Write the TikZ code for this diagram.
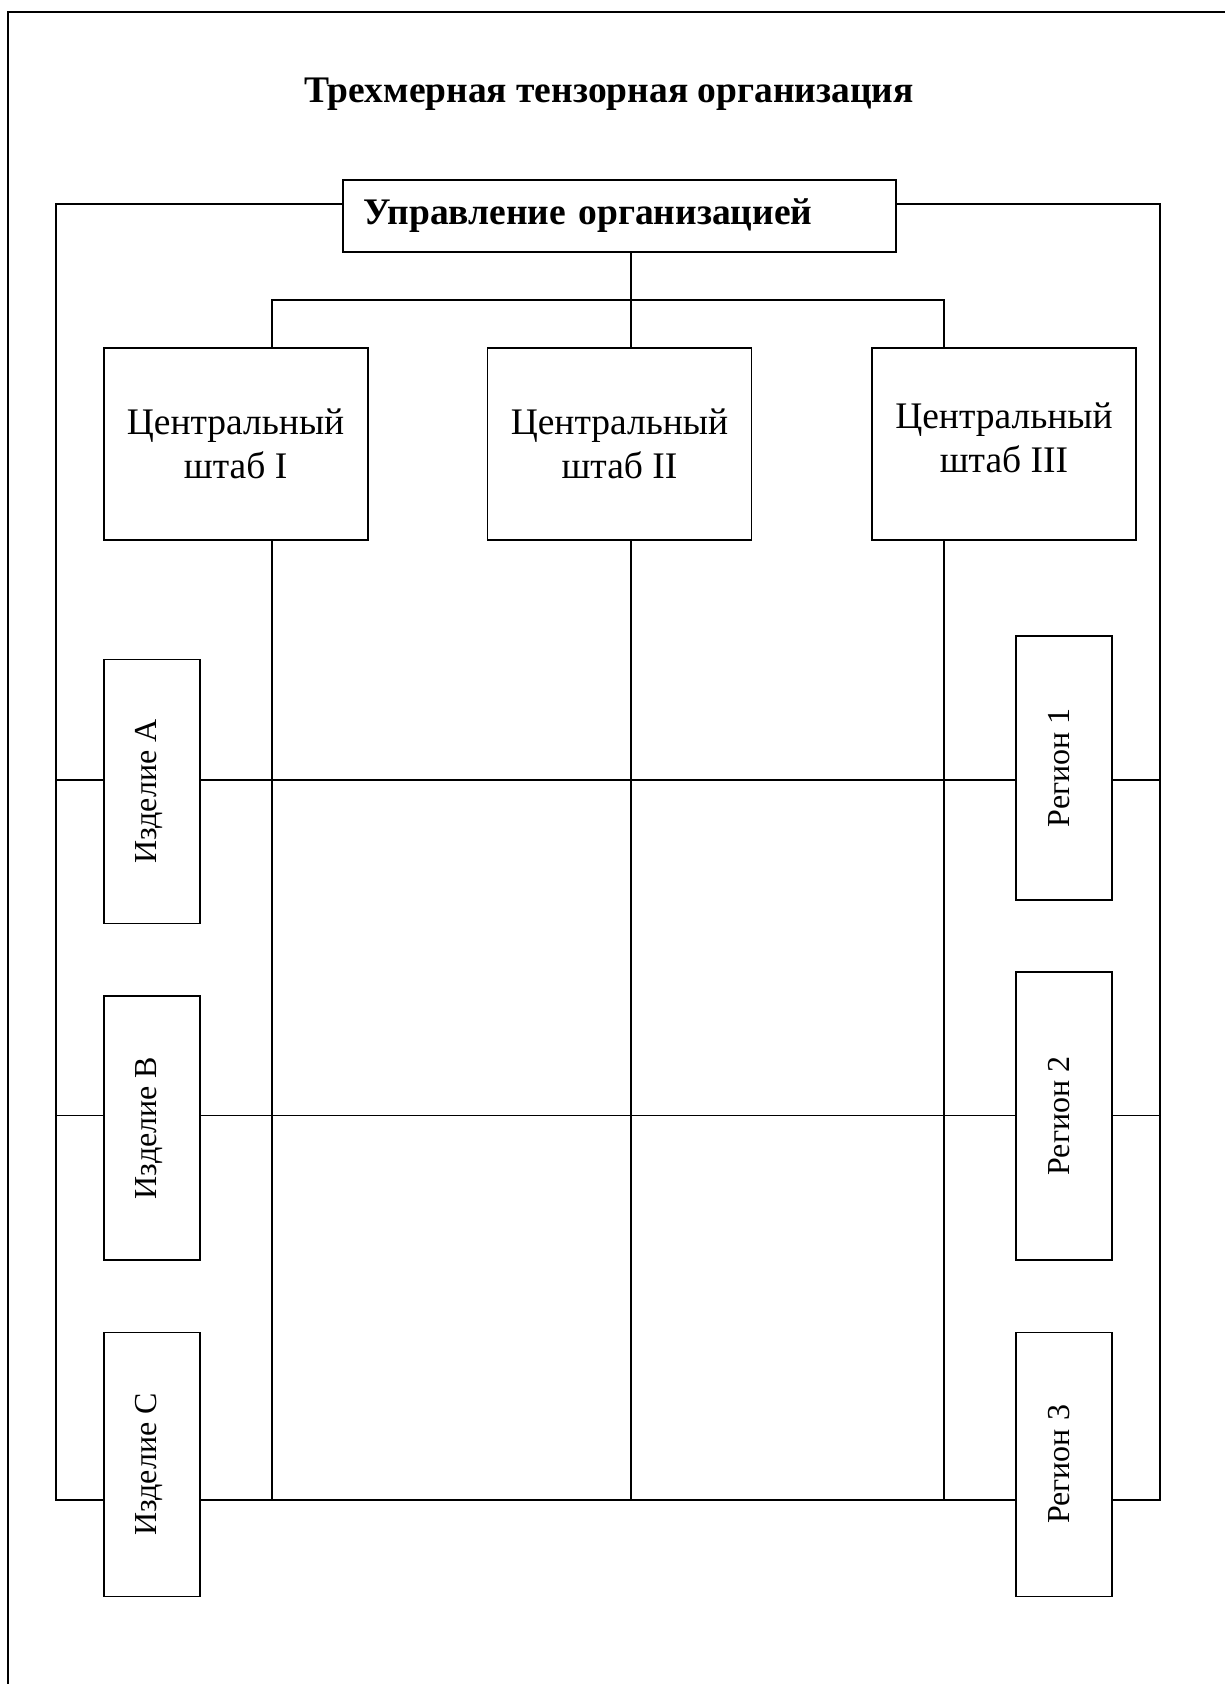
\documentclass[tikz,border=0pt]{standalone}
\usepackage{fontspec}
\setmainfont{Liberation Serif}
\begin{document}
\begin{tikzpicture}[x=1pt,y=-1pt,
  box/.style={draw, line width=1.8pt, fill=white, inner sep=0pt},
  link/.style={line width=1.6pt},
  bigfont/.style={font=\fontsize{37.5}{44}\selectfont},
  smallfont/.style={font=\fontsize{32}{38}\selectfont}]
\useasboundingbox (0,0) rectangle (1225,1684);

% page frame (left and top edges)
\draw[line width=2pt] (7.5,1684) -- (7.5,12) -- (1225,12);

% title
\node (title) [font=\fontsize{37.5}{44}\selectfont\bfseries, anchor=base] at (609,102)
  {Трехмерная тензорная организация};

% top management
\node (mgmt) [box, minimum height=72pt, text width=513pt, inner xsep=20pt, align=left,
  font=\fontsize{37.5}{44}\selectfont\bfseries] at (619.6,215.9) {Управление организацией};

% central headquarters
\node (hq1) [box, minimum width=264pt, minimum height=192pt] at (235.6,444) {};
\node (hq2) [box, minimum width=264pt, minimum height=192pt] at (619.5,444) {};
\node (hq3) [box, minimum width=264pt, minimum height=192pt] at (1004,444) {};
\node (hq1t) [bigfont, align=center, inner sep=0pt] at (hq1.center) {Центральный\\штаб I};
\node (hq2t) [bigfont, align=center, inner sep=0pt] at (hq2.center) {Центральный\\штаб II};
\node (hq3t) [bigfont, align=center, inner sep=0pt] at ([yshift=6pt]hq3.center) {Центральный\\штаб III};

% grid corners and column positions
\coordinate (tl) at (55.7,203.7);
\coordinate (tr) at (1159.7,203.7);
\coordinate (bl) at (55.7,1500);
\coordinate (br) at (1159.7,1500);
\coordinate (ra) at (55.7,780);
\coordinate (rb) at (55.7,1115.5);
\coordinate (b1) at (272,1500);
\coordinate (b2) at (631,1500);
\coordinate (b3) at (944,1500);
\coordinate (fork) at (631,299.7);

% outer loop from management
\draw[link] (mgmt.west |- tl) -- (tl) -- (bl) -- (br) -- (tr) -- (mgmt.east |- tr);
% rows
\draw[link] (ra) -- (ra -| br);
\draw[link] (rb) -- (rb -| br);
% tree to headquarters
\draw[link] (mgmt.south -| fork) -- (fork);
\draw[link] (hq1.north -| b1) -- (b1 |- fork) -- (b3 |- fork) -- (hq3.north -| b3);
\draw[link] (fork) -- (hq2.north -| b2);
% columns
\draw[link] (hq1.south -| b1) -- (b1);
\draw[link] (hq2.south -| b2) -- (b2);
\draw[link] (hq3.south -| b3) -- (b3);

% products
\node (pa) [box, minimum width=96pt, minimum height=264pt] at (152,791.5) {};
\node (pb) [box, minimum width=96pt, minimum height=264pt] at (152,1128) {};
\node (pc) [box, minimum width=96pt, minimum height=264pt] at (152,1464.4) {};
\node (pat) [smallfont, rotate=90, anchor=base, inner sep=0pt] at (156,791.5) {Изделие A};
\node (pbt) [smallfont, rotate=90, anchor=base, inner sep=0pt] at (156,1128) {Изделие B};
\node (pct) [smallfont, rotate=90, anchor=base, inner sep=0pt] at (156,1464.4) {Изделие C};

% regions
\node (r1) [box, minimum width=96pt, minimum height=264pt] at (1063.6,767.7) {};
\node (r2) [box, minimum width=96pt, minimum height=288pt] at (1063.6,1116) {};
\node (r3) [box, minimum width=96pt, minimum height=264pt] at (1063.6,1464.4) {};
\node (r1t) [smallfont, rotate=90, anchor=base, inner sep=0pt] at (1069,767.7) {Регион 1};
\node (r2t) [smallfont, rotate=90, anchor=base, inner sep=0pt] at (1069,1116) {Регион 2};
\node (r3t) [smallfont, rotate=90, anchor=base, inner sep=0pt] at (1069,1464.4) {Регион 3};
\end{tikzpicture}
\end{document}
